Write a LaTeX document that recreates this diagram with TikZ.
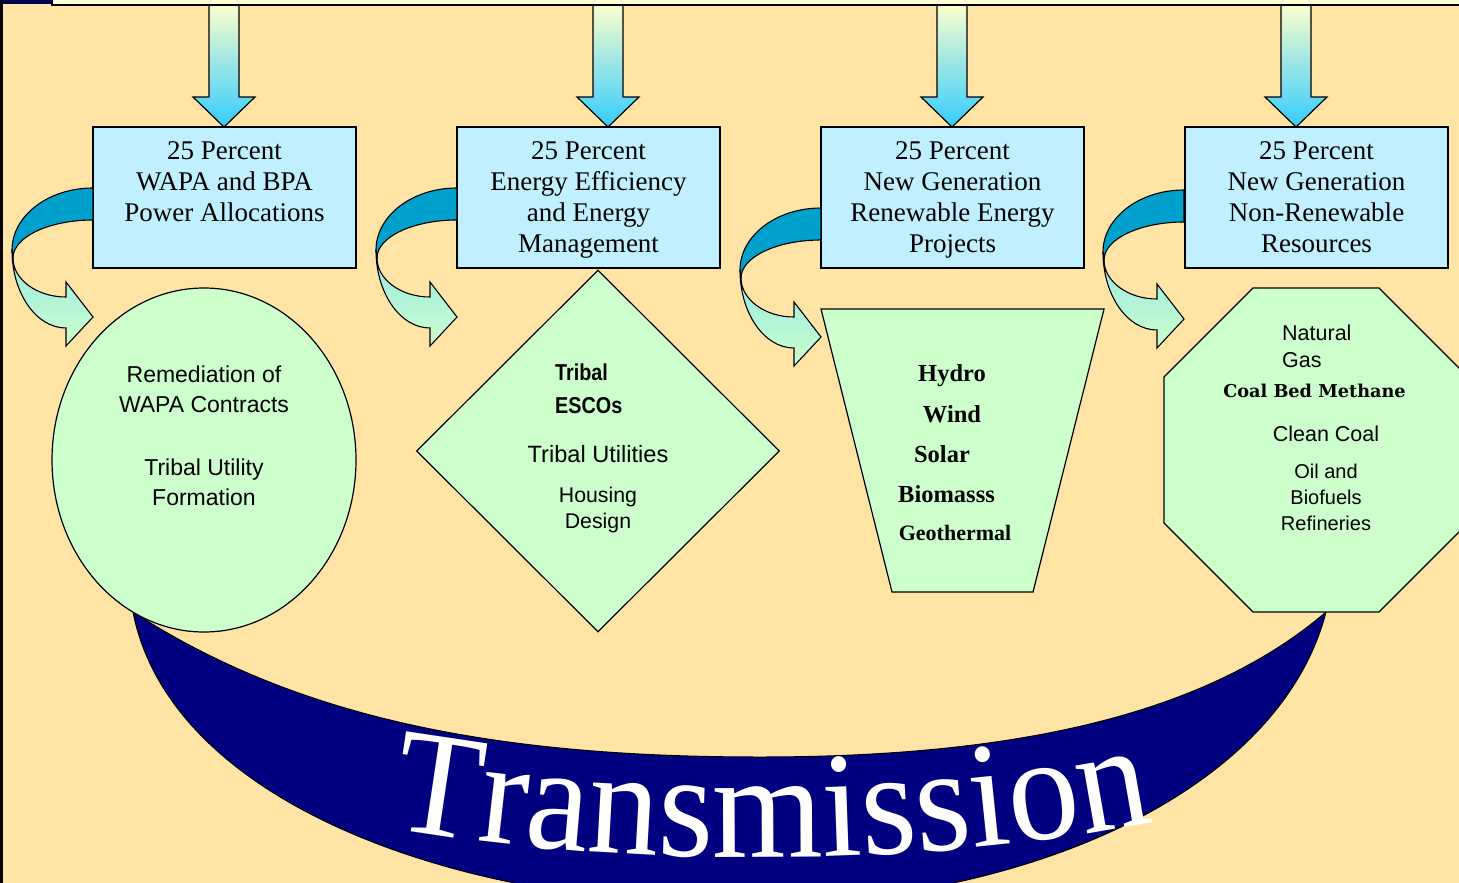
\documentclass[tikz,border=0pt]{standalone}
\usepackage{fontspec}
\setmainfont{Liberation Serif}
\newfontfamily\arial{Liberation Sans}
\newfontfamily\arialnarrow[FakeStretch=0.86]{Liberation Sans}
\newfontfamily\heavyserif{DejaVu Serif}
\newfontfamily\transfont[FakeStretch=0.95]{Liberation Serif}
\usetikzlibrary{shapes.geometric,decorations.text}

\definecolor{slidebg}{RGB}{255,228,166}
\definecolor{barfill}{RGB}{255,255,214}
\definecolor{boxblue}{RGB}{192,240,255}
\definecolor{palegreen}{RGB}{204,255,204}
\definecolor{bandteal}{RGB}{0,160,204}
\definecolor{ribbontop}{RGB}{150,232,228}
\definecolor{arrowtop}{RGB}{255,255,204}
\definecolor{arrowbot}{RGB}{51,204,255}
\definecolor{navyband}{RGB}{0,0,128}

\tikzset{
  pctbox/.style={draw=black, fill=boxblue, line width=1.3pt,
    minimum width=263pt, minimum height=141pt, inner sep=0pt},
  pcttext/.style={font=\fontsize{27}{31}\selectfont, align=center,
    inner sep=0pt, anchor=north},
  greenshape/.style={draw=black, fill=palegreen, line width=1.2pt},
  sanstext/.style={font=\arial\fontsize{23}{30.5}\selectfont, align=center, inner sep=0pt},
  boldsans/.style={font=\arialnarrow\bfseries\fontsize{23}{33}\selectfont, inner sep=0pt},
  boldserif/.style={font=\bfseries\fontsize{24.5}{30}\selectfont, inner sep=0pt},
  downarrow/.style={draw=black, line width=1.2pt, top color=arrowtop, bottom color=arrowbot},
  ribbonband/.style={draw=black, line width=1.1pt, fill=bandteal},
  ribbonhead/.style={draw=black, line width=1.1pt, top color=ribbontop, bottom color=palegreen},
}

\begin{document}
\begin{tikzpicture}[x=1pt,y=-1pt]
  \useasboundingbox (0,0) rectangle (1459,883);
  \clip (0,0) rectangle (1459,883);
  \fill[slidebg] (0,0) rectangle (1459,883);

  % arrows coming down from the top bar
  \foreach \x in {224,608,952,1296}
    \draw[downarrow] (\x-15,3) -- (\x-15,97) -- (\x-31,97) -- (\x,127)
      -- (\x+31,97) -- (\x+15,97) -- (\x+15,3) -- cycle;
  \fill[barfill] (52,-2) rectangle (1459,5);
  \draw[line width=1.3pt] (52,-2) -- (52,5) -- (1459,5);
  \fill[navyband!60!black] (0,0) rectangle (52,4);
  \fill[black] (0,0) rectangle (2.5,883);

  % transmission banner
  \filldraw[fill=navyband, draw=black, line width=1pt]
    (133,612) .. controls (170,800) and (450,905) .. (740,905)
    .. controls (1030,905) and (1280,790) .. (1326,612)
    .. controls (1200,720) and (1000,757) .. (760,757)
    .. controls (500,757) and (300,720) .. (133,612) -- cycle;
  \path[decorate, decoration={text along path, text color=white, text align=center,
      text={|\fontsize{150}{150}\transfont|Transmission}}]
    (392,828) .. controls (620,868) and (920,868) .. (1152,822);

  % the four percent boxes
  \node[pctbox] (wapa) at (224.5,197.5) {};
  \node[pctbox] (effic) at (588.5,197.5) {};
  \node[pctbox] (renew) at (952.5,197.5) {};
  \node[pctbox] (nonrenew) at (1316.5,197.5) {};
  \node[pcttext] (wapatext) at (224.5,141.7) {25 Percent\\WAPA and BPA\\Power Allocations};
  \node[pcttext] (effictext) at (588.5,141.7) {25 Percent\\Energy Efficiency\\and Energy\\Management};
  \node[pcttext] (renewtext) at (952.5,141.7) {25 Percent\\New Generation\\Renewable Energy\\Projects};
  \node[pcttext] (nonrenewtext) at (1316.5,141.7) {25 Percent\\New Generation\\Non-Renewable\\Resources};

  % curved arrows on the left of each box
  \foreach \dx/\dy in {0/0,364/0,728/20,1091/2} {
    \begin{scope}[shift={(\dx,\dy)}]
      \draw[ribbonband] (93,188) .. controls (48,188) and (12,216) .. (12,250)
        -- (13,258) .. controls (13,237) and (49,220) .. (93,220) -- cycle;
      \draw[ribbonhead] (12,250) .. controls (12,293) and (36,328) .. (66,328)
        -- (66,346) -- (93,317) -- (66,282) -- (66,297)
        .. controls (37,297) and (13,279.5) .. (13,258) -- cycle;
    \end{scope}
  }

  % shapes below the boxes
  \node[greenshape, ellipse, minimum width=304pt, minimum height=344pt, inner sep=0pt] (utility) at (204,460) {};
  \node[greenshape, diamond, minimum width=363pt, minimum height=362pt, inner sep=0pt] (escos) at (598,451) {};
  \draw[greenshape] (821,309) -- (1104,309) -- (1033,592) -- (892,592) -- cycle;
  \draw[greenshape] (1253,288) -- (1379,288) -- (1468,377) -- (1468,523)
    -- (1379,612) -- (1253,612) -- (1164,523) -- (1164,377) -- cycle;

  % texts in the shapes
  \node[sanstext, anchor=north] (remed) at (204,365.5) {Remediation of\\WAPA Contracts\\[32pt]Tribal Utility\\Formation};

  \node[boldsans, anchor=base west] (tribal) at (555,380) {Tribal};
  \node[boldsans, anchor=base west] (esco) at (555,413) {ESCOs};
  \node[sanstext, font=\arial\fontsize{23.6}{30}\selectfont, anchor=base] (utilities) at (598,462) {Tribal Utilities};
  \node[sanstext, font=\arial\fontsize{21.3}{26}\selectfont, anchor=north] (housing) at (598,486.5) {Housing\\Design};

  \node[boldserif, anchor=base] (hydro) at (952,381) {Hydro};
  \node[boldserif, anchor=base] (wind) at (952,422) {Wind};
  \node[boldserif, anchor=base] (solar) at (942,462) {Solar};
  \node[boldserif, anchor=base] (biomass) at (946.5,502) {Biomasss};
  \node[boldserif, font=\bfseries\fontsize{22}{26}\selectfont, anchor=base] (geo) at (955,540) {Geothermal};

  \node[sanstext, font=\arial\fontsize{21.5}{27}\selectfont, anchor=base west] (natgas) at (1282,340) {Natural};
  \node[sanstext, font=\arial\fontsize{21.5}{27}\selectfont, anchor=base west] (gas) at (1282,367) {Gas};
  \node[font=\heavyserif\bfseries\fontsize{17.7}{20}\selectfont, inner sep=0pt, anchor=base] (cbm) at (1314.5,397) {Coal Bed Methane};
  \node[sanstext, font=\arial\fontsize{21.5}{27}\selectfont, anchor=base] (cleancoal) at (1326,441) {Clean Coal};
  \node[sanstext, font=\arial\fontsize{20}{26}\selectfont, anchor=north] (oil) at (1326,463.5) {Oil and\\Biofuels\\Refineries};
\end{tikzpicture}
\end{document}
